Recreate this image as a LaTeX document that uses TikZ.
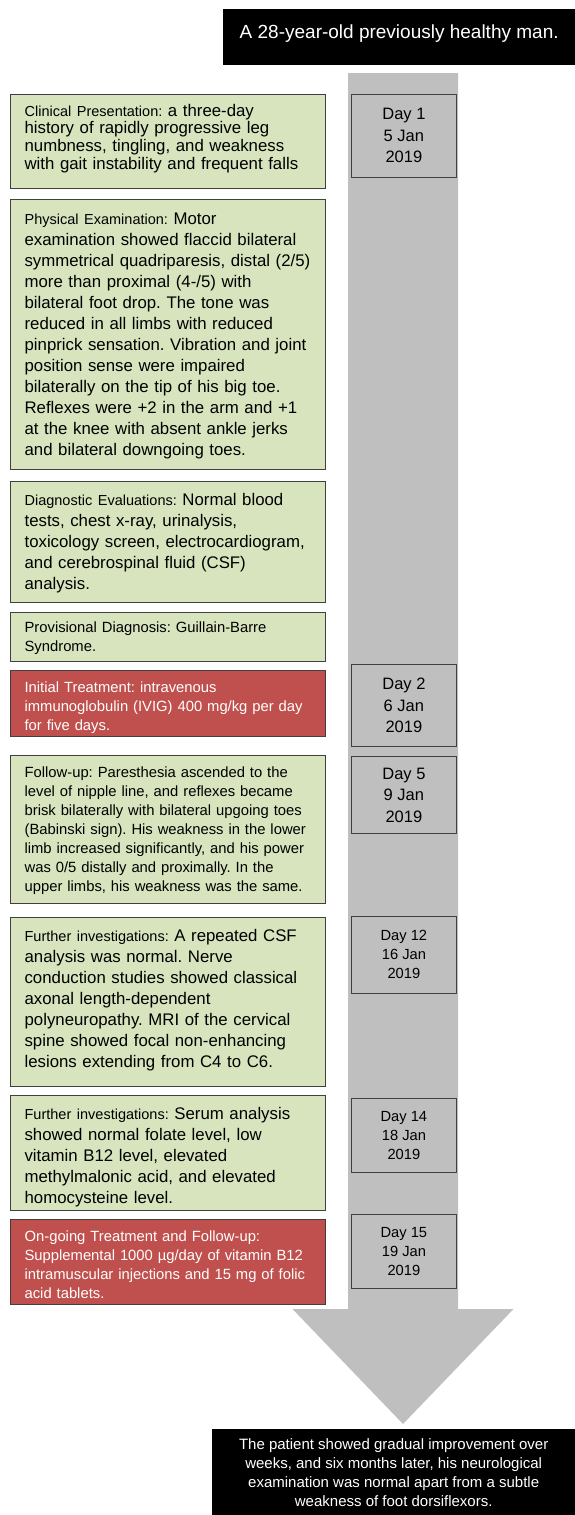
\documentclass[tikz,border=0pt]{standalone}
\usepackage{fontspec}
\setmainfont{Liberation Sans}
\usetikzlibrary{positioning}
\frenchspacing

\definecolor{panelGreen}{HTML}{D7E4BD}
\definecolor{panelRed}{HTML}{C0504D}
\definecolor{arrowGray}{HTML}{BFBFBF}
\definecolor{edgeGray}{HTML}{404040}

\newcommand{\bodyFont}{\fontsize{16.8}{21}\selectfont}
\newcommand{\smallFont}{\fontsize{14.8}{19}\selectfont}
\newcommand{\caseLabel}[1]{{\fontsize{14.5}{19}\selectfont #1}}

\tikzset{
  panel/.style={draw=edgeGray, line width=1.2pt, anchor=north west, align=left,
    inner xsep=14pt, inner ysep=0pt, text width=287pt, minimum width=315pt},
  greenBox/.style={panel, fill=panelGreen, font=\bodyFont},
  redBox/.style={panel, fill=panelRed, text=white, font=\smallFont},
  dayBox/.style={draw=edgeGray, line width=0.8pt, fill=arrowGray, anchor=north west,
    minimum width=105pt, align=center, inner sep=2pt, font=\fontsize{16.5}{21.5}\selectfont},
  blackBox/.style={fill=black, text=white, anchor=north west, inner sep=0pt}
}

\begin{document}
\begin{tikzpicture}[x=1pt, y=-1pt]

\useasboundingbox (0,0) rectangle (575,1515);

% Timeline arrow
\coordinate (shaftTop) at (403,73);
\coordinate (shaftEnd) at (403,1309);
\coordinate (arrowTip) at (403,1424);
\fill[arrowGray] ([xshift=-55pt]shaftTop) -- ([xshift=55pt]shaftTop)
  -- ([xshift=55pt]shaftEnd) -- ([xshift=110.5pt]shaftEnd) -- (arrowTip)
  -- ([xshift=-110.5pt]shaftEnd) -- ([xshift=-55pt]shaftEnd) -- cycle;

% Patient and outcome
\node[blackBox, minimum width=352pt, text height=29.5pt, text depth=26.5pt,
  font=\fontsize{19}{22}\selectfont] (intro) at (223,9) {A 28-year-old previously healthy man.};
\node[blackBox, minimum width=363pt, minimum height=86pt, align=center,
  font=\fontsize{15}{19}\selectfont] (outcome) at (212,1429)
  {The patient showed gradual improvement over\\weeks, and six months later, his neurological\\examination was normal apart from a subtle\\weakness of foot dorsiflexors.};

% Event boxes
\node[greenBox, font=\fontsize{16.8}{17.8}\selectfont, text height=21.5pt, text depth=72.5pt] (presentation) at (10,94)
  {\caseLabel{Clinical Presentation:} a three-day\\history of rapidly progressive leg\\numbness, tingling, and weakness\\with gait instability and frequent falls};
\node[greenBox, text height=25pt, text depth=245pt] (exam) at (10,199)
  {\caseLabel{Physical Examination:} Motor\\examination showed flaccid bilateral\\symmetrical quadriparesis, distal (2/5)\\more than proximal (4-/5) with\\bilateral foot drop. The tone was\\reduced in all limbs with reduced\\pinprick sensation. Vibration and joint\\position sense were impaired\\bilaterally on the tip of his big toe.\\Reflexes were +2 in the arm and +1\\at the knee with absent ankle jerks\\and bilateral downgoing toes.};
\node[greenBox, text height=24pt, text depth=97pt] (evaluation) at (10,481)
  {\caseLabel{Diagnostic Evaluations:} Normal blood\\tests, chest x-ray, urinalysis,\\toxicology screen, electrocardiogram,\\and cerebrospinal fluid (CSF)\\analysis.};
\node[greenBox, font=\smallFont, text height=20pt, text depth=29pt] (diagnosis) at (10,612)
  {Provisional Diagnosis: Guillain-Barre\\Syndrome.};
\node[redBox, text height=22pt, text depth=44pt] (ivig) at (10,670)
  {Initial Treatment: intravenous\\immunoglobulin (IVIG) 400 mg/kg per day\\for five days.};
\node[greenBox, font=\smallFont, text height=22pt, text depth=126pt] (followup) at (10,755)
  {Follow-up: Paresthesia ascended to the\\level of nipple line, and reflexes became\\brisk bilaterally with bilateral upgoing toes\\(Babinski sign). His weakness in the lower\\limb increased significantly, and his power\\was 0/5 distally and proximally. In the\\upper limbs, his weakness was the same.};
\node[greenBox, text height=24pt, text depth=145pt] (csf) at (10,917)
  {\caseLabel{Further investigations:} A repeated CSF\\analysis was normal. Nerve\\conduction studies showed classical\\axonal length-dependent\\polyneuropathy. MRI of the cervical\\spine showed focal non-enhancing\\lesions extending from C4 to C6.};
\node[greenBox, text height=24pt, text depth=91pt] (serum) at (10,1095)
  {\caseLabel{Further investigations:} Serum analysis\\showed normal folate level, low\\vitamin B12 level, elevated\\methylmalonic acid, and elevated\\homocysteine level.};
\node[redBox, text height=22pt, text depth=63pt] (vitamin) at (10,1219)
  {On-going Treatment and Follow-up:\\Supplemental 1000 µg/day of vitamin B12\\intramuscular injections and 15 mg of folic\\acid tablets.};

% Dates on the timeline
\node[dayBox, minimum height=83pt] (day1) at (351,94) {Day 1\\5 Jan\\2019};
\node[dayBox, minimum height=82pt] (day2) at (351,664) {Day 2\\6 Jan\\2019};
\node[dayBox, minimum height=77pt] (day5) at (351,756) {Day 5\\9 Jan\\2019};
\node[dayBox, minimum height=77pt, font=\fontsize{14.7}{19}\selectfont] (day12) at (351,916) {Day 12\\16 Jan\\2019};
\node[dayBox, minimum height=74pt, font=\fontsize{14.7}{19}\selectfont] (day14) at (351,1098) {Day 14\\18 Jan\\2019};
\node[dayBox, minimum height=74pt, font=\fontsize{14.7}{19}\selectfont] (day15) at (351,1214) {Day 15\\19 Jan\\2019};

\end{tikzpicture}
\end{document}
